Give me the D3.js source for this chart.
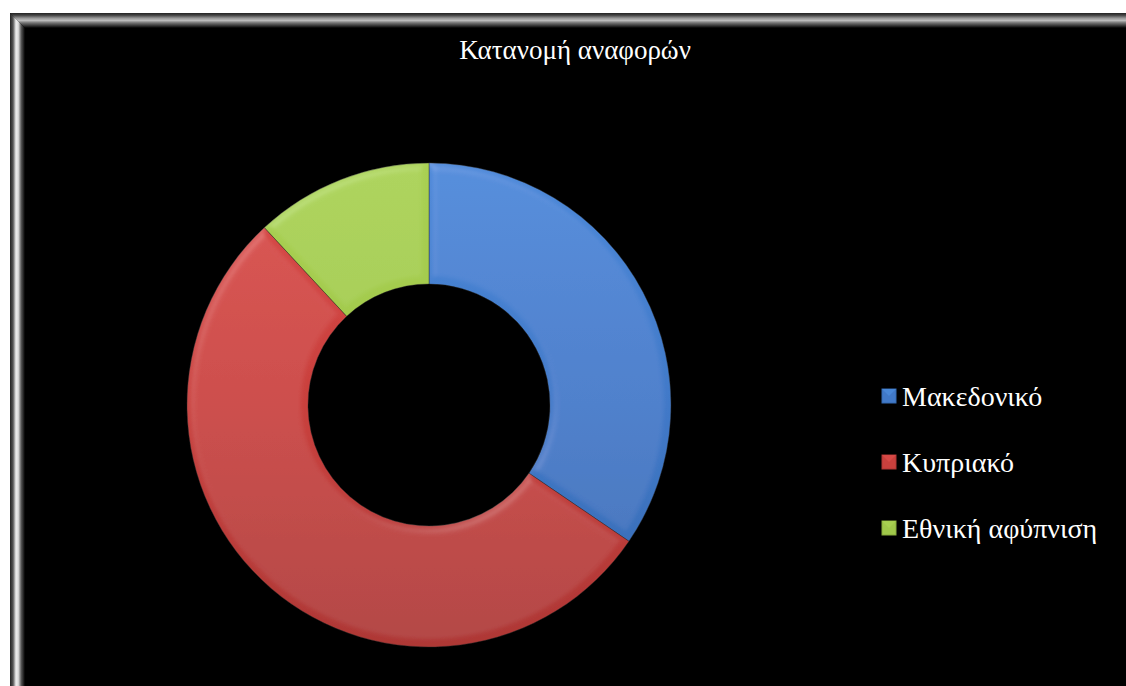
<!DOCTYPE html>
<html><head><meta charset="utf-8">
<script src="https://cdn.jsdelivr.net/npm/d3@7"></script>
<style>html,body{margin:0;padding:0;background:#fff;overflow:hidden} text{font-family:'Liberation Serif','DejaVu Serif',serif}</style>
</head><body>
<svg id="c" width="1126" height="686"></svg>
<script>
const categories = ["Μακεδονικό", "Κυπριακό", "Εθνική αφύπνιση"];
const values = [29, 45, 10];
const colors = ["#4179c8", "#c9403d", "#a0c84a"];
const lightColors = ["#4a88d8", "#d84a47", "#a9d052"];
const darkColors = ["#356ab2", "#ae3735", "#88ab3c"];
const title = "Κατανομή αναφορών";

const svg = d3.select("#c");
const defs = svg.append("defs");
const W = 1126, H = 686;

// frame
const fx = 10, fy = 13;
svg.append("rect").attr("x", fx).attr("y", fy).attr("width", W - fx + 20).attr("height", H - fy + 20).attr("fill", "#000");
const gT = defs.append("linearGradient").attr("id", "bt").attr("x1", 0).attr("y1", 0).attr("x2", 0).attr("y2", 1);
[[0,"#222"],[0.15,"#444"],[0.35,"#999"],[0.5,"#bbb"],[0.65,"#777"],[1,"#000"]].forEach(s=>gT.append("stop").attr("offset",s[0]).attr("stop-color",s[1]));
const gL = defs.append("linearGradient").attr("id", "bl").attr("x1", 0).attr("y1", 0).attr("x2", 1).attr("y2", 0);
[[0,"#222"],[0.2,"#555"],[0.4,"#eee"],[0.55,"#ddd"],[0.75,"#555"],[1,"#000"]].forEach(s=>gL.append("stop").attr("offset",s[0]).attr("stop-color",s[1]));
const bw = 15;
svg.append("path").attr("d", `M${fx},${fy} L${W},${fy} L${W},${fy+bw} L${fx+bw},${fy+bw} Z`).attr("fill", "url(#bt)");
svg.append("path").attr("d", `M${fx},${fy} L${fx+bw},${fy+bw} L${fx+bw},${H} L${fx},${H} Z`).attr("fill", "url(#bl)");

// title
svg.append("text").attr("x", 575).attr("y", 59).attr("text-anchor", "middle")
  .attr("font-size", 27).attr("fill", "#fff").text(title);

// donut
const cx = 429, cy = 405, R = 242, r = 121;
const pie = d3.pie().sort(null).value(d => d)(values);
const arc = d3.arc().innerRadius(r).outerRadius(R);

// bevel filter
const f = defs.append("filter").attr("id", "bev").attr("x", "-10%").attr("y", "-10%").attr("width", "120%").attr("height", "120%");
f.append("feGaussianBlur").attr("in", "SourceAlpha").attr("stdDeviation", 4).attr("result", "blur");
const sl = f.append("feSpecularLighting").attr("in", "blur").attr("surfaceScale", 3).attr("specularConstant", 0.5)
  .attr("specularExponent", 25).attr("lighting-color", "#ffffff").attr("result", "spec");
sl.append("feDistantLight").attr("azimuth", 235).attr("elevation", 55);
f.append("feComposite").attr("in", "spec").attr("in2", "SourceAlpha").attr("operator", "in").attr("result", "specOut");
f.append("feComposite").attr("in", "SourceGraphic").attr("in2", "specOut").attr("operator", "arithmetic")
  .attr("k1", 0).attr("k2", 1).attr("k3", 0.18).attr("k4", 0);

pie.forEach((d, i) => {
  const g = defs.append("linearGradient").attr("id", "sg" + i).attr("gradientUnits", "userSpaceOnUse")
    .attr("x1", 0).attr("y1", -R).attr("x2", 0).attr("y2", R);
  g.append("stop").attr("offset", 0).attr("stop-color", lightColors[i]);
  g.append("stop").attr("offset", 0.5).attr("stop-color", colors[i]);
  g.append("stop").attr("offset", 1).attr("stop-color", darkColors[i]);
});

const gD = svg.append("g").attr("transform", `translate(${cx},${cy})`);
gD.selectAll("path.s").data(pie).join("path").attr("class", "s")
  .attr("d", arc).attr("fill", (d, i) => `url(#sg${i})`).attr("filter", "url(#bev)")
  .attr("stroke", "#2a2a2a").attr("stroke-opacity", 0.5).attr("stroke-width", 0.8);

// legend
const lg = svg.append("g").attr("font-size", 28).attr("fill", "#fff");
const ly = d3.scalePoint().domain(categories).range([396, 528]);
categories.forEach((c, i) => {
  const y = ly(c);
  lg.append("rect").attr("x", 882).attr("y", y - 7).attr("width", 14).attr("height", 14)
    .attr("fill", colors[i]).attr("stroke", darkColors[i]).attr("stroke-width", 1);
  lg.append("path").attr("d", `M${882},${y-7} L${896},${y-7} L${889},${y} Z`).attr("fill", lightColors[i]).attr("opacity", 0.9);
  lg.append("text").attr("x", 902).attr("y", y + 10).text(c);
});
</script>
</body></html>
